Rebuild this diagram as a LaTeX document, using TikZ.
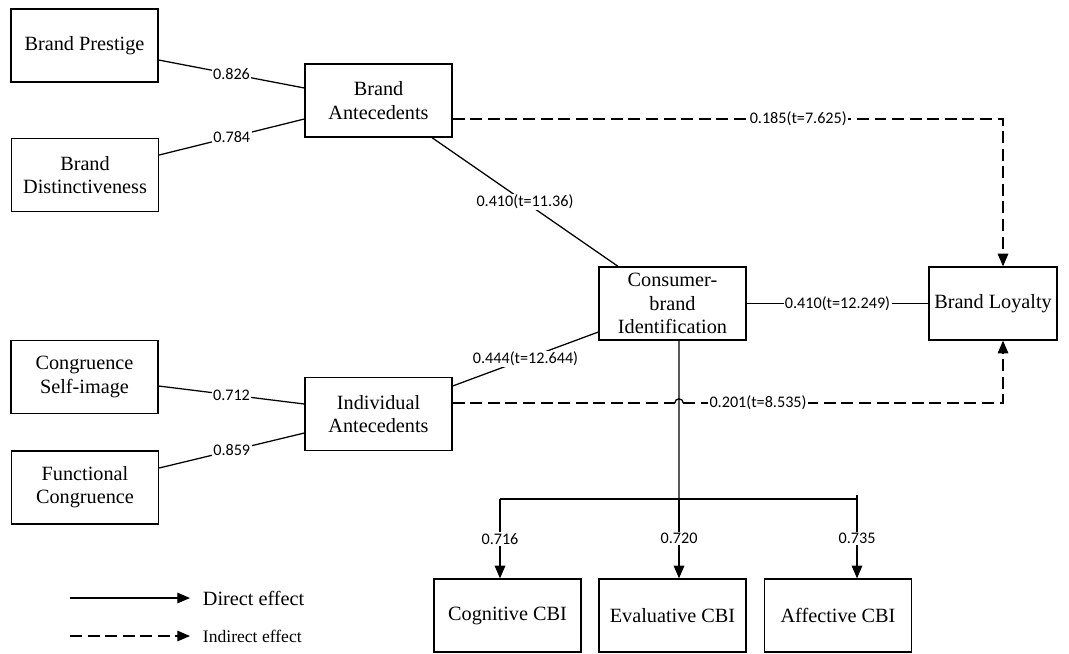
\documentclass[tikz,border=0pt]{standalone}
\usepackage{fontspec}
\setmainfont{Liberation Serif}
\newfontfamily\carlito{Carlito}
\usepackage{tikz}
\usetikzlibrary{positioning, calc, arrows.meta}

\begin{document}
\begin{tikzpicture}[
    % Đơn vị: 1 pixel, trục y hướng xuống
    x=0.025cm, y=-0.025cm,
    % Khung các biến
    box/.style={draw, line width=0.9pt, minimum width=3.675cm, minimum height=1.825cm,
        align=center, inner sep=1pt, font=\fontsize{14.4}{16.5}\selectfont},
    % Nhãn hệ số trên đường nối
    coef/.style={fill=white, inner sep=1pt, font=\carlito\fontsize{11.5}{13}\selectfont},
    % Đường liền (tác động trực tiếp)
    direct/.style={draw, line width=0.9pt},
    % Đường nét đứt (tác động gián tiếp)
    indirect/.style={draw, line width=0.9pt, dash pattern=on 8.5pt off 4pt},
    % Đầu mũi tên tam giác đặc
    endtip/.style={-{Triangle[length=9pt, width=7.5pt]}}
]
\useasboundingbox (0,0) rectangle (1069,653);

% Các biến bên trái
\node[box] (prestige) at (84.5,45.5) {Brand Prestige};
\node[box] (distinct) at (85,175) {Brand\\Distinctiveness};
\node[box] (congself) at (84.5,377) {Congruence\\Self-image};
\node[box] (funccong) at (85,487.5) {Functional\\Congruence};

% Các tiền đề
\node[box] (ba) at (378.5,100.5) {Brand\\Antecedents};
\node[box] (ia) at (378.5,414) {Individual\\Antecedents};

% Biến trung tâm và biến kết quả
\node[box] (cbi) at (672.5,303.5) {Consumer-\\brand\\Identification};
\node[box, minimum width=3.2cm] (loy) at (993,303.5) {Brand Loyalty};

% Ba thành phần CBI
\node[box] (cog) at (507.5,615.5) {Cognitive CBI};
\node[box] (eva) at (672.5,615.5) {Evaluative CBI};
\node[box] (aff) at (838,615.5) {Affective CBI};

% Nối vào Brand Antecedents
\draw[direct] ($(prestige.east)+(0,14.5)$) -- node[coef] {0.826} ($(ba.west)+(0,-12.5)$);
\draw[direct] ($(distinct.east)+(0,-20)$) -- node[coef] {0.784} ($(ba.west)+(0,18.5)$);

% Nối vào Individual Antecedents
\draw[direct] ($(congself.east)+(0,9)$) -- node[coef] {0.712} ($(ia.west)+(0,-10)$);
\draw[direct] ($(funccong.east)+(0,-19.5)$) -- node[coef] {0.859} ($(ia.west)+(0,19)$);

% Nối vào CBI và Brand Loyalty
\draw[direct] ($(ba.south)+(53.5,0)$) -- node[coef] {0.410(t=11.36)} ($(cbi.north)+(-54.5,0)$);
\draw[direct] ($(ia.east)+(0,-28)$) -- node[coef] {0.444(t=12.644)} ($(cbi.west)+(0,28.5)$);
\draw[direct] (cbi.east) -- node[coef] {0.410(t=12.249)} (loy.west);

% Điểm rẽ nhánh phía dưới CBI
\coordinate (split) at (679,499);
\coordinate (jl) at (500,499);
\coordinate (jr) at (857,499);

% Tác động gián tiếp
\coordinate (loytop) at ($(loy.north)+(10,0)$);
\coordinate (loybot) at ($(loy.south)+(10,0)$);
\coordinate (iaout) at ($(ia.east)+(0,-11)$);
\coordinate (hop) at (iaout -| split);
\draw[indirect, endtip] ($(ba.east)+(0,18.5)$) -| node[coef, pos=0.314] {0.185(t=7.625)} (loytop);
\draw[indirect] (iaout) -- ($(hop)+(-4.2,0)$);
\draw[direct] ($(hop)+(-4.2,0)$) arc[start angle=180, end angle=0, radius=3pt]; % chỗ vượt qua
\draw[indirect, endtip] ($(hop)+(4.2,0)$) -- node[coef, pos=0.234] {0.201(t=8.535)} (iaout -| loybot) -- (loybot);

% Nhánh xuống ba thành phần
\draw[direct] ($(cbi.south)+(6.5,0)$) -- (split);
\draw[direct] (jl) -- (jr) -- ++(0,-4);
\draw[direct, endtip] (jl) -- node[coef] {0.716} (jl |- cog.north);
\draw[direct, endtip] (split) -- node[coef] {0.720} (split |- eva.north);
\draw[direct, endtip] (jr) -- node[coef] {0.735} (jr |- aff.north);

% Chú thích
\coordinate (l1) at (70,598);
\node[anchor=west, inner xsep=9pt, font=\fontsize{14.4}{17}\selectfont] (directlbl) at (190,598) {Direct effect};
\draw[direct, endtip] (l1) -- (directlbl.west);
\coordinate (l2) at (70,636);
\node[anchor=west, inner xsep=9pt, font=\fontsize{12.5}{15}\selectfont] (indirectlbl) at (190,636) {Indirect effect};
\draw[indirect, endtip] (l2) -- (indirectlbl.west);

\end{tikzpicture}
\end{document}
